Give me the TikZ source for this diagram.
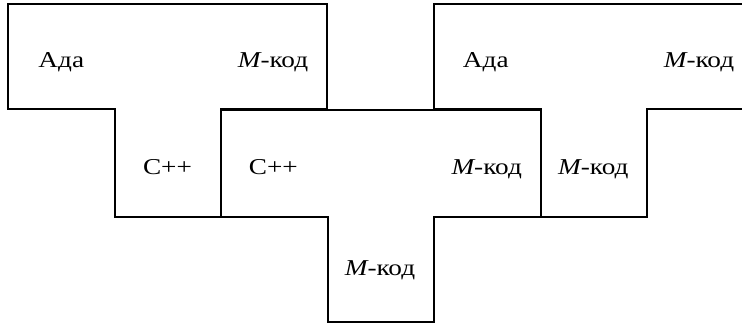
\documentclass[tikz,border=0pt]{standalone}
\usepackage{fontspec}
\setmainfont[FakeStretch=1.2]{Liberation Serif}
\begin{document}
\begin{tikzpicture}[x=1pt,y=-1pt,
  tshape/.style={draw=black,line width=1.2pt,line join=miter},
  lbl/.style={anchor=base,inner sep=0pt,font=\fontsize{22.7}{27}\selectfont}]
\useasboundingbox (0,0) rectangle (742,324);
\clip (0,0) rectangle (742,324);
% left T
\draw[tshape] (8,4) -- (327,4) -- (327,109) -- (221,109) -- (221,217) -- (115,217) -- (115,109) -- (8,109) -- cycle;
% middle T
\draw[tshape] (221,110) -- (541,110) -- (541,217) -- (434,217) -- (434,322) -- (328,322) -- (328,217) -- (221,217) -- cycle;
% right T
\draw[tshape] (434,4) -- (754,4) -- (754,109) -- (647,109) -- (647,217) -- (541,217) -- (541,109) -- (434,109) -- cycle;
% labels
\node[lbl] (l1) at (61.3,67) {Ада};
\node[lbl] (l2) at (273,67) {{\itshape M}-код};
\node[lbl] (l3) at (167.5,174) {C++};
\node[lbl] (m1) at (273.3,174) {C++};
\node[lbl] (m2) at (486.7,174) {{\itshape M}-код};
\node[lbl] (m3) at (380,275.5) {{\itshape M}-код};
\node[lbl] (r1) at (485.8,67) {Ада};
\node[lbl] (r2) at (699,67) {{\itshape M}-код};
\node[lbl] (r3) at (593.3,174) {{\itshape M}-код};
\end{tikzpicture}
\end{document}
